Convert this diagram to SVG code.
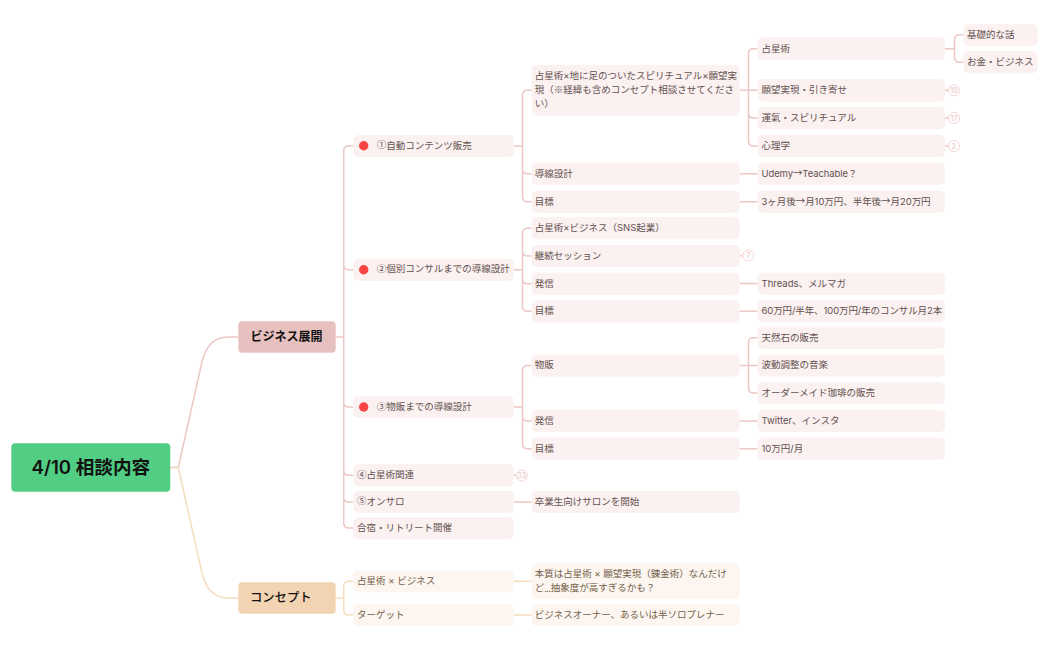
<svg xmlns="http://www.w3.org/2000/svg" width="1049" height="650" viewBox="0 0 1049 650">
<style>
text{font-family:Inter,"Noto Sans CJK JP",sans-serif;font-size:9.5px;fill:#64504f;dominant-baseline:central}
.j{font-family:"Noto Sans CJK JP",sans-serif}
.u{baseline-shift:.8px}
.c text{fill:#725f4a}
.n{fill:#faf1f0}
.c .n{fill:#fdf5ef}
.w{fill:none;stroke-width:1.5;stroke-linejoin:round}
.p{stroke:#ebc8c5}
.o{stroke:#f6dcbe}
.dot{fill:#fa4343}
.b{fill:#fff;stroke:#f1cfcc;stroke-width:.9}
text.bt{font-size:7px;fill:#e8bdb9;text-anchor:middle}
text.l1{font-size:12px;font-weight:600;fill:#111}
text.l0{font-size:18.600px;font-weight:600;fill:#111}
</style>
<rect width="1049" height="650" fill="#fff"/>
<g id="connectors">
<path class="w p" d="M170.3 467.5H178.3L201.7 363Q207.500 337 228 337H238.300"/>
<path class="w o" d="M170.300 467.500H178.300L201.700 571.700Q207.500 598 228 598H238.300"/>
<path class="w p" d="M335.700 337H343.700M353.300 146H348.700Q343.700 146 343.700 151V523Q343.700 528 348.700 528H353.300M343.700 470.300Q343.700 475.300 348.700 475.300H353.300M343.700 497Q343.700 502 348.700 502H353.300M343.700 264.700Q343.700 269.700 348.700 269.700H353.300M343.700 402Q343.700 407 348.700 407H353.300"/>
<path class="w p" d="M513.700 146H522.500M531.700 90.300H527.500Q522.500 90.300 522.500 95.300V196.700Q522.500 201.700 527.500 201.700H531.700M522.500 168.700Q522.500 173.700 527.500 173.700H531.700"/>
<path class="w p" d="M513.700 269.700H522.500M531.700 228.300H527.500Q522.500 228.300 522.500 233.300V306.300Q522.500 311.300 527.500 311.300H531.700M522.500 251Q522.500 256 527.500 256H531.700M522.500 278.700Q522.500 283.700 527.500 283.700H531.700"/>
<path class="w p" d="M513.700 407H522.500M531.700 365.500H527.500Q522.500 365.500 522.500 370.500V443.800Q522.500 448.800 527.500 448.800H531.700M522.500 416Q522.500 421 527.500 421H531.700"/>
<path class="w p" d="M739.800 90.300H757.700M757.700 48.700H753.500Q748.500 48.700 748.500 53.700V141Q748.500 146 753.500 146H757.700M748.500 113Q748.500 118 753.500 118H757.700"/>
<path class="w p" d="M945 48.700H954.500M963.500 34.800H959.500Q954.500 34.800 954.500 39.800V57.300Q954.500 62.300 959.500 62.300H963.500"/>
<path class="w p" d="M739.800 173.700H757.700M739.800 201.700H757.700M739.800 283.500H757.700M739.800 311.300H757.700M739.800 421H757.700M739.800 448.800H757.700M513.700 502H531.700"/>
<path class="w p" d="M739.800 365.500H757.700M757.700 337.700H753.500Q748.500 337.700 748.500 342.700V388Q748.500 393 753.500 393H757.700"/>
<path class="w p" d="M945 90.300H948.500M945 118H948.500M945 146H948.500M739.800 256H743M513.700 475.300H516"/>
<path class="w o" d="M335.700 598H343.700M353.300 581.300H348.700Q343.700 581.300 343.700 586.300V610Q343.700 615 348.700 615H353.300"/>
<path class="w o" d="M513.700 581.300H531.700M513.700 615H531.700"/>
</g>
<g id="root"><rect x="11.300" y="443.300" width="159" height="48.400" rx="4" fill="#52ce84"/><text class="l0" x="31.500" y="467">4/10 相談内容</text></g>
<g id="biz"><rect x="238.300" y="321.300" width="97.400" height="31.400" rx="4" fill="#e7c1c0"/><text class="l1" x="250.500" y="336.500">ビジネス展開</text></g>
<g id="n1"><rect class="n" x="353.300" y="135" width="160.400" height="22" rx="5"/><circle class="dot" cx="363.700" cy="145.700" r="4.700"/><text x="376.700" y="145.200"><tspan class="j u">①</tspan>自動コンテンツ販売</text></g>
<g id="n1a"><rect class="n" x="531.700" y="65" width="208" height="50.700" rx="5"/><text x="534.700" y="75.500">占星術×地に足のついたスピリチュアル×願望実</text><text x="534.700" y="89.500">現（<tspan class="j u">※</tspan>経緯も含めコンセプト相談させてくださ</text><text x="534.700" y="103.500">い）</text></g>
<g id="n1a1"><rect class="n" x="757.700" y="37.300" width="187.300" height="22.700" rx="5"/><text x="761.500" y="48">占星術</text></g>
<g id="n1a1a"><rect class="n" x="963.500" y="24" width="74" height="21.700" rx="5"/><text x="967" y="34.300">基礎的な話</text></g>
<g id="n1a1b"><rect class="n" x="963.500" y="51.300" width="74" height="22" rx="5"/><text x="967" y="61.800">お金・ビジネス</text></g>
<g id="n1a2"><rect class="n" x="757.700" y="79" width="187.300" height="22.700" rx="5"/><text x="761.500" y="89.800">願望実現・引き寄せ</text><circle class="b" cx="954" cy="90.300" r="5.500"/><text class="bt" x="954" y="90.300">10</text></g>
<g id="n1a3"><rect class="n" x="757.700" y="107" width="187.300" height="22.300" rx="5"/><text x="761.500" y="117.500">運氣・スピリチュアル</text><circle class="b" cx="954" cy="118" r="5.500"/><text class="bt" x="954" y="118">17</text></g>
<g id="n1a4"><rect class="n" x="757.700" y="135" width="187.300" height="22" rx="5"/><text x="761.500" y="145.500">心理学</text><circle class="b" cx="954" cy="146" r="5.500"/><text class="bt" x="954" y="146">2</text></g>
<g id="n1b"><rect class="n" x="531.700" y="162.700" width="208" height="22" rx="5"/><text x="534.700" y="173.200">導線設計</text></g>
<g id="n1b1"><rect class="n" x="757.700" y="162.700" width="187.300" height="22" rx="5"/><text x="761.500" y="173.200" style="letter-spacing:-.1px">Udemy<tspan class="j u">→</tspan>Teachable？</text></g>
<g id="n1c"><rect class="n" x="531.700" y="190.700" width="208" height="22" rx="5"/><text x="534.700" y="201">目標</text></g>
<g id="n1c1"><rect class="n" x="757.700" y="190.700" width="187.300" height="22" rx="5"/><text x="761.500" y="201" style="letter-spacing:-.05px">3ヶ月後<tspan class="j u">→</tspan>月10万円、半年後<tspan class="j u">→</tspan>月20万円</text></g>
<g id="n2"><rect class="n" x="353.300" y="258.700" width="160.400" height="22" rx="5"/><circle class="dot" cx="363.700" cy="269.700" r="4.700"/><text x="376.700" y="268.800"><tspan class="j u">②</tspan>個別コンサルまでの導線設計</text></g>
<g id="n2a"><rect class="n" x="531.700" y="217.300" width="208" height="22" rx="5"/><text x="534.700" y="227.500">占星術×ビジネス（SNS起業）</text></g>
<g id="n2b"><rect class="n" x="531.700" y="245" width="208" height="22" rx="5"/><text x="534.700" y="255.300">継続セッション</text><circle class="b" cx="748.300" cy="255.500" r="5.500"/><text class="bt" x="748.300" y="255.500">7</text></g>
<g id="n2c"><rect class="n" x="531.700" y="272.700" width="208" height="22" rx="5"/><text x="534.700" y="283">発信</text></g>
<g id="n2c1"><rect class="n" x="757.700" y="272.700" width="187.300" height="22" rx="5"/><text x="761.500" y="283">Threads、メルマガ</text></g>
<g id="n2d"><rect class="n" x="531.700" y="300.300" width="208" height="22" rx="5"/><text x="534.700" y="310.600">目標</text></g>
<g id="n2d1"><rect class="n" x="757.700" y="300.300" width="187.300" height="22" rx="5"/><text x="761.500" y="310.600" style="letter-spacing:-.1px">60万円/半年、100万円/年のコンサル月2本</text></g>
<g id="n3"><rect class="n" x="353.300" y="396" width="160.400" height="22" rx="5"/><circle class="dot" cx="363.700" cy="407" r="4.700"/><text x="376.700" y="406.600"><tspan class="j u">③</tspan>物販までの導線設計</text></g>
<g id="n3a"><rect class="n" x="531.700" y="354.500" width="208" height="22" rx="5"/><text x="534.700" y="364.800">物販</text></g>
<g id="n3a1"><rect class="n" x="757.700" y="326.700" width="187.300" height="22" rx="5"/><text x="761.500" y="337.200">天然石の販売</text></g>
<g id="n3a2"><rect class="n" x="757.700" y="354.500" width="187.300" height="22" rx="5"/><text x="761.500" y="364.800">波動調整の音楽</text></g>
<g id="n3a3"><rect class="n" x="757.700" y="382.300" width="187.300" height="22" rx="5"/><text x="761.500" y="392.600">オーダーメイド珈琲の販売</text></g>
<g id="n3b"><rect class="n" x="531.700" y="410" width="208" height="22" rx="5"/><text x="534.700" y="420.300">発信</text></g>
<g id="n3b1"><rect class="n" x="757.700" y="410" width="187.300" height="22" rx="5"/><text x="761.500" y="420.300">Twitter、インスタ</text></g>
<g id="n3c"><rect class="n" x="531.700" y="437.700" width="208" height="22" rx="5"/><text x="534.700" y="448.200">目標</text></g>
<g id="n3c1"><rect class="n" x="757.700" y="437.700" width="187.300" height="22" rx="5"/><text x="761.500" y="448.200">10万円/月</text></g>
<g id="n4"><rect class="n" x="353.300" y="464.300" width="160.400" height="22" rx="5"/><text x="357" y="474.800"><tspan class="j u">④</tspan>占星術関連</text><circle class="b" cx="521.700" cy="475.500" r="5.500"/><text class="bt" x="521.700" y="475.500">33</text></g>
<g id="n5"><rect class="n" x="353.300" y="491" width="160.400" height="22" rx="5"/><text x="357" y="501.300"><tspan class="j u">⑤</tspan>オンサロ</text></g>
<g id="n5a"><rect class="n" x="531.700" y="491" width="208" height="22" rx="5"/><text x="534.700" y="501.300">卒業生向けサロンを開始</text></g>
<g id="n6"><rect class="n" x="353.300" y="517.300" width="160.400" height="22" rx="5"/><text x="357" y="527.600">合宿・リトリート開催</text></g>
<g class="c">
<g id="concept"><rect x="238.300" y="582.300" width="97.400" height="31.400" rx="4" fill="#f3d4b2"/><text class="l1" x="250" y="597" style="font-weight:500;font-size:12.300px">コンセプト</text></g>
<g id="c1"><rect class="n" x="353.300" y="570.300" width="160.400" height="22" rx="5"/><text x="357" y="580.700">占星術 × ビジネス</text></g>
<g id="c1a"><rect class="n" x="531.700" y="563.300" width="208" height="36" rx="5"/><text x="534.700" y="573.800">本質は占星術 × 願望実現（錬金術）なんだけ</text><text x="534.700" y="587.800">ど<tspan style="letter-spacing:-.6px">...</tspan>抽象度が高すぎるかも？</text></g>
<g id="c2"><rect class="n" x="353.300" y="604" width="160.400" height="22" rx="5"/><text x="357" y="614.300">ターゲット</text></g>
<g id="c2a"><rect class="n" x="531.700" y="604" width="208" height="22" rx="5"/><text x="534.700" y="614.300">ビジネスオーナー、あるいは半ソロプレナー</text></g>
</g>
</svg>
